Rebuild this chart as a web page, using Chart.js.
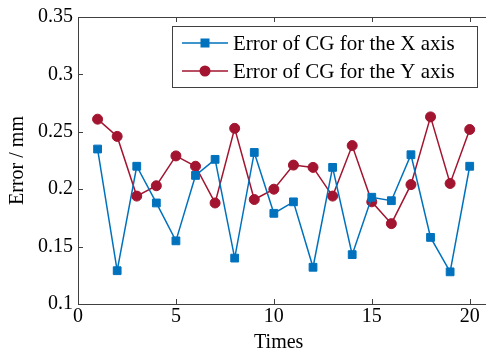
<!DOCTYPE html>
<html>
<head>
<meta charset="utf-8">
<script src="https://cdn.jsdelivr.net/npm/chart.js@4.4.1/dist/chart.umd.min.js"></script>
<style>
  html, body { margin: 0; padding: 0; background: #fff; overflow: hidden; }
  #wrap { width: 486px; height: 355px; }
</style>
</head>
<body>
<div id="wrap"><canvas id="errChart"></canvas></div>
<script>
// data
var times = [1, 2, 3, 4, 5, 6, 7, 8, 9, 10, 11, 12, 13, 14, 15, 16, 17, 18, 19, 20];
var errX = [0.235, 0.129, 0.220, 0.188, 0.155, 0.212, 0.226, 0.140, 0.232, 0.179,
            0.189, 0.132, 0.219, 0.143, 0.193, 0.190, 0.230, 0.158, 0.128, 0.220];
var errY = [0.261, 0.246, 0.194, 0.203, 0.229, 0.220, 0.188, 0.253, 0.191, 0.200,
            0.221, 0.219, 0.194, 0.238, 0.189, 0.170, 0.204, 0.263, 0.205, 0.252];
var seriesNames = ['Error of CG for the X axis', 'Error of CG for the Y axis'];
var xTicks = [0, 5, 10, 15, 20];
var yTicks = [0.1, 0.15, 0.2, 0.25, 0.3, 0.35];

var blue = '#0072BD';
var red = '#A2142F';
var axisColor = '#404040';
var serif = "'Liberation Serif', 'Times New Roman', serif";

function toXY(xs, ys) {
  return xs.map(function(x, i) { return { x: x, y: ys[i] }; });
}

// axes lines + inward ticks, matlab style (right side is cut off in the figure)
var frame = {
  id: 'frame',
  afterDraw: function(chart) {
    var ctx = chart.ctx, a = chart.chartArea;
    var xs = chart.scales.x, ys = chart.scales.y;
    ctx.save();
    ctx.strokeStyle = axisColor;
    ctx.lineWidth = 1;
    ctx.beginPath();
    ctx.moveTo(a.left + 0.5, a.top + 0.5);
    ctx.lineTo(chart.width, a.top + 0.5);
    ctx.moveTo(a.left + 0.5, a.top);
    ctx.lineTo(a.left + 0.5, a.bottom + 0.5);
    ctx.lineTo(chart.width, a.bottom + 0.5);
    xTicks.forEach(function(v) {
      var px = Math.round(xs.getPixelForValue(v)) + 0.5;
      ctx.moveTo(px, a.bottom); ctx.lineTo(px, a.bottom - 5);
      ctx.moveTo(px, a.top); ctx.lineTo(px, a.top + 5);
    });
    yTicks.forEach(function(v) {
      var py = Math.round(ys.getPixelForValue(v)) + 0.5;
      ctx.moveTo(a.left, py); ctx.lineTo(a.left + 5, py);
    });
    ctx.stroke();
    ctx.restore();
  }
};

// legend box in the upper right
var boxLegend = {
  id: 'boxLegend',
  afterDraw: function(chart) {
    var ctx = chart.ctx, a = chart.chartArea;
    ctx.save();
    ctx.font = '21px ' + serif;
    var maxW = 0;
    chart.data.datasets.forEach(function(ds) {
      maxW = Math.max(maxW, ctx.measureText(ds.label).width);
    });
    var w = Math.round(61 + maxW + 22);
    var right = chart.width - 9;
    var left = right - w;
    var top = a.top + 9;
    var h = 61;
    ctx.fillStyle = '#fff';
    ctx.fillRect(left, top, w, h);
    ctx.strokeStyle = axisColor;
    ctx.lineWidth = 1;
    ctx.strokeRect(left + 0.5, top + 0.5, w, h);
    chart.data.datasets.forEach(function(ds, i) {
      var cy = top + 17 + i * 28;
      ctx.strokeStyle = ds.borderColor;
      ctx.lineWidth = 1.5;
      ctx.beginPath();
      ctx.moveTo(left + 10, cy); ctx.lineTo(left + 56, cy);
      ctx.stroke();
      ctx.fillStyle = ds.backgroundColor;
      if (ds.pointStyle === 'rect') {
        ctx.fillRect(left + 33 - 4.5, cy - 4.5, 9, 9);
      } else {
        ctx.beginPath();
        ctx.arc(left + 33, cy, 5.5, 0, Math.PI * 2);
        ctx.fill();
      }
      ctx.fillStyle = '#000';
      ctx.textBaseline = 'middle';
      ctx.fillText(ds.label, left + 61, cy + 1);
    });
    ctx.restore();
  }
};

var ctx = document.getElementById('errChart').getContext('2d');
var chart = new Chart(ctx, {
  type: 'line',
  data: {
    datasets: [{
      label: seriesNames[0],
      data: toXY(times, errX),
      borderColor: blue,
      backgroundColor: blue,
      borderWidth: 1.5,
      pointStyle: 'rect',
      pointRadius: 5.5,
      pointBorderWidth: 1,
      tension: 0
    }, {
      label: seriesNames[1],
      data: toXY(times, errY),
      borderColor: red,
      backgroundColor: red,
      borderWidth: 1.5,
      pointStyle: 'circle',
      pointRadius: 5,
      pointBorderWidth: 1,
      tension: 0
    }]
  },
  options: {
    responsive: true,
    maintainAspectRatio: false,
    animation: false,
    layout: { padding: { top: 16, left: 0, right: 0, bottom: 0 } },
    plugins: {
      legend: { display: false },
      tooltip: { enabled: false }
    },
    scales: {
      x: {
        type: 'linear',
        min: 0,
        max: 20.5,
        grid: { display: false, drawTicks: false },
        border: { display: false },
        afterBuildTicks: function(scale) {
          scale.ticks = xTicks.map(function(v) { return { value: v }; });
        },
        afterFit: function(scale) { scale.height = 51; },
        ticks: {
          color: '#000',
          padding: 1,
          maxRotation: 0,
          font: { family: serif, size: 20 }
        },
        title: {
          display: true,
          text: 'Times',
          color: '#000',
          padding: { top: 5, bottom: 0 },
          font: { family: serif, size: 20 }
        }
      },
      y: {
        min: 0.1,
        max: 0.35,
        grid: { display: false, drawTicks: false },
        border: { display: false },
        afterBuildTicks: function(scale) {
          scale.ticks = yTicks.map(function(v) { return { value: v }; });
        },
        afterFit: function(scale) { scale.width = 78; },
        ticks: {
          color: '#000',
          padding: 5,
          font: { family: serif, size: 20 },
          callback: function(v) { return String(parseFloat(v.toFixed(2))); }
        },
        title: {
          display: true,
          text: 'Error / mm',
          color: '#000',
          padding: { top: 6, bottom: 0 },
          font: { family: serif, size: 20 }
        }
      }
    }
  },
  plugins: [frame, boxLegend]
});
</script>
</body>
</html>
